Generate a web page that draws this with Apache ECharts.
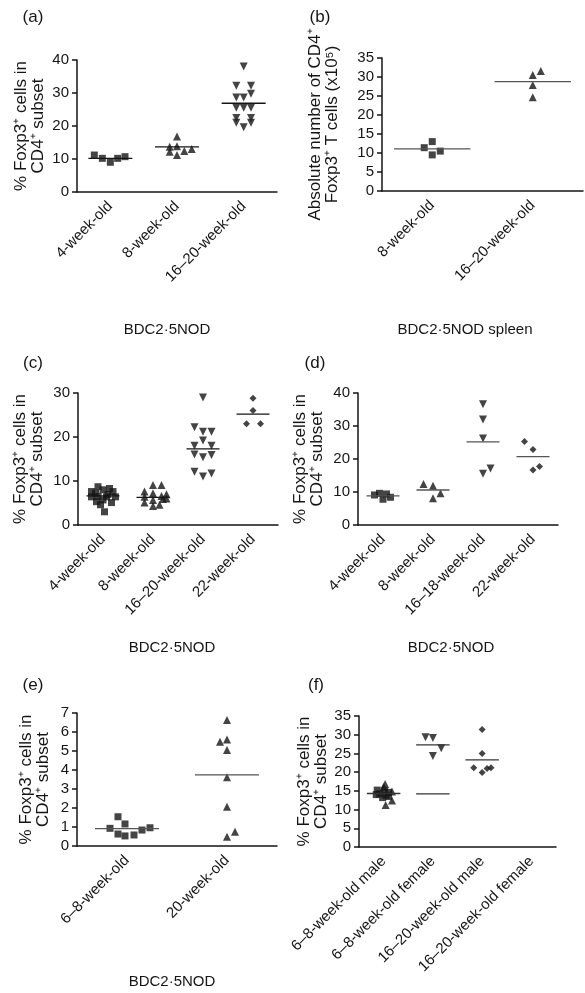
<!DOCTYPE html>
<html>
<head>
<meta charset="utf-8">
<script src="https://cdn.jsdelivr.net/npm/echarts@6/dist/echarts.min.js"></script>
<style>
  html, body { margin: 0; background: #fff; }
  #chart { width: 585px; height: 993px; }
</style>
</head>
<body>
<div id="chart"></div>
<script>
const FONT = '"Liberation Sans", Arial, sans-serif';
const INK = '#151515';

// (a) BDC2.5NOD, % Foxp3+ in CD4+
const aCats = ['4-week-old', '8-week-old', '16–20-week-old'];
const aVals = [
  [11.2, 10.2, 9.0, 10.2, 10.7],
  [16.8, 13.7, 13.9, 13.0, 12.4, 11.2, 12.2],
  [38.0, 32.2, 32.2, 29.8, 28.6, 28.6, 25.5, 25.5, 25.5, 22.4, 22.4, 21.0, 21.0, 19.6]
];
const aJit = [
  [-0.24, -0.12, 0, 0.11, 0.22],
  [0, -0.11, 0, 0.22, 0.11, 0, -0.11],
  [0, -0.11, 0.11, 0.11, -0.11, 0, -0.11, 0, 0.11, -0.11, 0.11, -0.11, 0.11, 0]
];
const aMeans = [10.2, 13.7, 26.9];

// (b) spleen, absolute number (x10^5)
const bCats = ['8-week-old', '16–20-week-old'];
const bVals = [[11.4, 13.0, 9.5, 10.5], [30.5, 31.6, 27.9, 24.7]];
const bJit = [[-0.08, 0, 0, 0.08], [0, 0.08, 0, 0]];
const bMeans = [11.1, 28.8];

// (c)
const cCats = ['4-week-old', '8-week-old', '16–20-week-old', '22-week-old'];
const cVals = [
  [8.7, 8.3, 7.6, 8.0, 7.6, 6.4, 6.5, 6.4, 6.4, 5.3, 5.7, 5.1, 4.6, 6.9, 7.2, 3.0],
  [9.1, 9.1, 7.6, 6.4, 7.2, 6.6, 5.1, 5.7, 5.9, 4.3, 4.6, 6.0, 7.0],
  [29.0, 22.2, 21.2, 21.2, 19.2, 18.0, 18.0, 16.0, 15.4, 15.9, 12.1, 11.0, 11.7],
  [28.8, 26.0, 23.0, 23.0]
];
const cJit = [
  [-0.1, 0.13, -0.23, 0, 0.2, -0.23, -0.1, 0.07, 0.25, -0.13, 0, 0.17, -0.05, 0.1, -0.15, 0.03],
  [0, 0.17, -0.17, -0.17, 0, 0.17, -0.17, 0, 0.2, 0, 0.13, 0.27, 0.27],
  [0, -0.17, 0, 0.17, 0, -0.17, 0.17, -0.17, 0, 0.17, -0.17, 0, 0.17],
  [0, 0, -0.13, 0.15]
];
const cMeans = [6.6, 6.3, 17.3, 25.2];

// (d)
const dCats = ['4-week-old', '8-week-old', '16–18-week-old', '22-week-old'];
const dVals = [
  [9.1, 9.6, 9.4, 7.8, 8.4],
  [12.4, 11.9, 8.1, 9.6],
  [36.6, 32.0, 26.2, 15.5, 17.1],
  [25.3, 22.9, 16.7, 17.7]
];
const dJit = [
  [-0.17, -0.07, 0.07, 0, 0.15],
  [-0.19, 0, 0, 0.15],
  [0, 0, 0, 0, 0.15],
  [-0.17, 0, 0, 0.13]
];
const dMeans = [8.8, 10.6, 25.2, 20.7];

// (e)
const eCats = ['6–8-week-old', '20-week-old'];
const eVals = [
  [0.93, 1.54, 1.16, 0.63, 0.53, 0.58, 0.84, 0.96],
  [6.63, 5.49, 5.61, 5.05, 3.62, 2.07, 0.49, 0.75]
];
const eJit = [
  [-0.17, -0.09, -0.02, -0.09, -0.02, 0.07, 0.15, 0.23],
  [0, -0.07, 0, 0, 0, 0, 0, 0.08]
];
const eMeans = [0.91, 3.74];

// (f)
const fCats = ['6–8-week-old male', '6–8-week-old female', '16–20-week-old male', '16–20-week-old female'];
const fMaleSq = [15.2, 15.0, 14.2, 13.8, 13.2, 13.5, 14.6, 14.0];
const fMaleSqJit = [-0.13, 0.02, -0.08, 0.05, -0.02, 0.1, 0.1, -0.15];
const fMaleTri = [16.8, 16.0, 14.8, 12.4, 11.2];
const fMaleTriJit = [0.03, 0, 0.17, 0.17, 0.04];
const fFemale = [29.3, 29.1, 26.4, 24.3];
const fFemaleJit = [-0.15, 0, 0.17, 0];
const fOldMale = [31.4, 25.0, 21.2, 19.9, 21.0, 21.2];
const fOldMaleJit = [0, 0, -0.17, 0, 0.1, 0.18];
const fMeans = [14.3, 27.3, 23.3];
const fExtraLine = [[1, 14.2]]; // second bar under the female group

const SYM = {
  sq: { symbol: 'rect', symbolSize: 7 },
  up: { symbol: 'triangle', symbolSize: 8 },
  down: { symbol: 'triangle', symbolSize: 8, symbolRotate: 180 },
  dia: { symbol: 'diamond', symbolSize: 7 }
};

const panels = [
  {
    grid: { left: 77, top: 60, width: 200, height: 132 }, cats: aCats, max: 40, step: 10,
    name: '% Foxp3⁺ cells in\nCD4⁺ subset', gap: 30, half: 0.33, lineColor: INK,
    groups: [['sq', 0, aVals[0], aJit[0]], ['up', 1, aVals[1], aJit[1]], ['down', 2, aVals[2], aJit[2]]],
    means: aMeans.map((m, i) => [i, m])
  },
  {
    grid: { left: 382, top: 58, width: 201, height: 133 }, cats: bCats, max: 35, step: 5,
    name: 'Absolute number of CD4⁺\nFoxp3⁺ T cells (x10⁵)', gap: 41, half: 0.38, lineColor: '#555',
    groups: [['sq', 0, bVals[0], bJit[0]], ['up', 1, bVals[1], bJit[1]]],
    means: bMeans.map((m, i) => [i, m])
  },
  {
    grid: { left: 78, top: 393, width: 200, height: 132 }, cats: cCats, max: 30, step: 10,
    name: '% Foxp3⁺ cells in\nCD4⁺ subset', gap: 32, half: 0.33, lineColor: INK,
    groups: [['sq', 0, cVals[0], cJit[0]], ['up', 1, cVals[1], cJit[1]], ['down', 2, cVals[2], cJit[2]], ['dia', 3, cVals[3], cJit[3]]],
    means: cMeans.map((m, i) => [i, m])
  },
  {
    grid: { left: 358, top: 393, width: 200, height: 132 }, cats: dCats, max: 40, step: 10,
    name: '% Foxp3⁺ cells in\nCD4⁺ subset', gap: 32, half: 0.33, lineColor: '#555',
    groups: [['sq', 0, dVals[0], dJit[0]], ['up', 1, dVals[1], dJit[1]], ['down', 2, dVals[2], dJit[2]], ['dia', 3, dVals[3], dJit[3]]],
    means: dMeans.map((m, i) => [i, m])
  },
  {
    grid: { left: 77, top: 713, width: 200, height: 133 }, cats: eCats, max: 7, step: 1,
    name: '% Foxp3⁺ cells in\nCD4⁺ subset', gap: 25, half: 0.32, lineColor: '#555',
    groups: [['sq', 0, eVals[0], eJit[0]], ['up', 1, eVals[1], eJit[1]]],
    means: eMeans.map((m, i) => [i, m])
  },
  {
    grid: { left: 359, top: 716, width: 197, height: 131 }, cats: fCats, max: 35, step: 5,
    name: '% Foxp3⁺ cells in\nCD4⁺ subset', gap: 29, half: 0.34, lineColor: '#333',
    groups: [['sq', 0, fMaleSq, fMaleSqJit], ['up', 0, fMaleTri, fMaleTriJit], ['down', 1, fFemale, fFemaleJit], ['dia', 2, fOldMale, fOldMaleJit]],
    means: fMeans.map((m, i) => [i, m]).concat(fExtraLine)
  }
];

const grid = [], xAxis = [], yAxis = [], series = [];
panels.forEach((p, i) => {
  grid.push(p.grid);
  xAxis.push({
    type: 'category', gridIndex: i, data: p.cats, boundaryGap: true,
    axisLine: { onZero: false, lineStyle: { color: INK, width: 1.5 } },
    axisTick: { alignWithLabel: true, length: 5, lineStyle: { color: INK, width: 1.5 } },
    axisLabel: { rotate: 45, interval: 0, margin: 12, fontSize: 15, color: INK, fontFamily: FONT },
    splitLine: { show: false }
  });
  // hidden value axis used to place the jittered points
  xAxis.push({ type: 'value', gridIndex: i, min: -0.5, max: p.cats.length - 0.5, show: false });
  yAxis.push({
    type: 'value', gridIndex: i, min: 0, max: p.max, interval: p.step,
    name: p.name, nameLocation: 'middle', nameRotate: 90, nameGap: p.gap,
    nameTextStyle: { fontSize: 17, lineHeight: 17, color: INK, fontFamily: FONT },
    axisLine: { show: true, onZero: false, lineStyle: { color: INK, width: 1.5 } },
    axisTick: { show: true, length: 5, lineStyle: { color: INK, width: 1.5 } },
    axisLabel: { fontSize: 15, margin: 8, color: INK, fontFamily: FONT },
    splitLine: { show: false }
  });
  p.groups.forEach(([kind, cat, vals, jit]) => {
    series.push(Object.assign({
      type: 'scatter', xAxisIndex: 2 * i + 1, yAxisIndex: i,
      itemStyle: { color: INK },
      data: vals.map((v, k) => [cat + jit[k], v])
    }, SYM[kind]));
  });
  p.means.forEach(([cat, m]) => {
    series.push({
      type: 'line', xAxisIndex: 2 * i + 1, yAxisIndex: i, symbol: 'none', silent: true,
      lineStyle: { color: p.lineColor, width: 1.3 },
      data: [[cat - p.half, m], [cat + p.half, m]]
    });
  });
});

function txt(x, y, text, size) {
  return { type: 'text', x: x, y: y, style: { text: text, fontSize: size, fontFamily: FONT, fill: INK, align: 'center', verticalAlign: 'middle' } };
}

const chart = echarts.init(document.getElementById('chart'));
chart.setOption({
  animation: false,
  grid: grid, xAxis: xAxis, yAxis: yAxis, series: series,
  graphic: [
    txt(33, 17, '(a)', 17), txt(320, 17, '(b)', 17),
    txt(33, 363, '(c)', 17), txt(315, 363, '(d)', 17),
    txt(33, 685, '(e)', 17), txt(316, 685, '(f)', 17),
    txt(167, 330, 'BDC2·5NOD', 15), txt(465, 330, 'BDC2·5NOD spleen', 15),
    txt(172, 648, 'BDC2·5NOD', 15), txt(451, 648, 'BDC2·5NOD', 15),
    txt(172, 982, 'BDC2·5NOD', 15)
  ]
});
</script>
</body>
</html>
